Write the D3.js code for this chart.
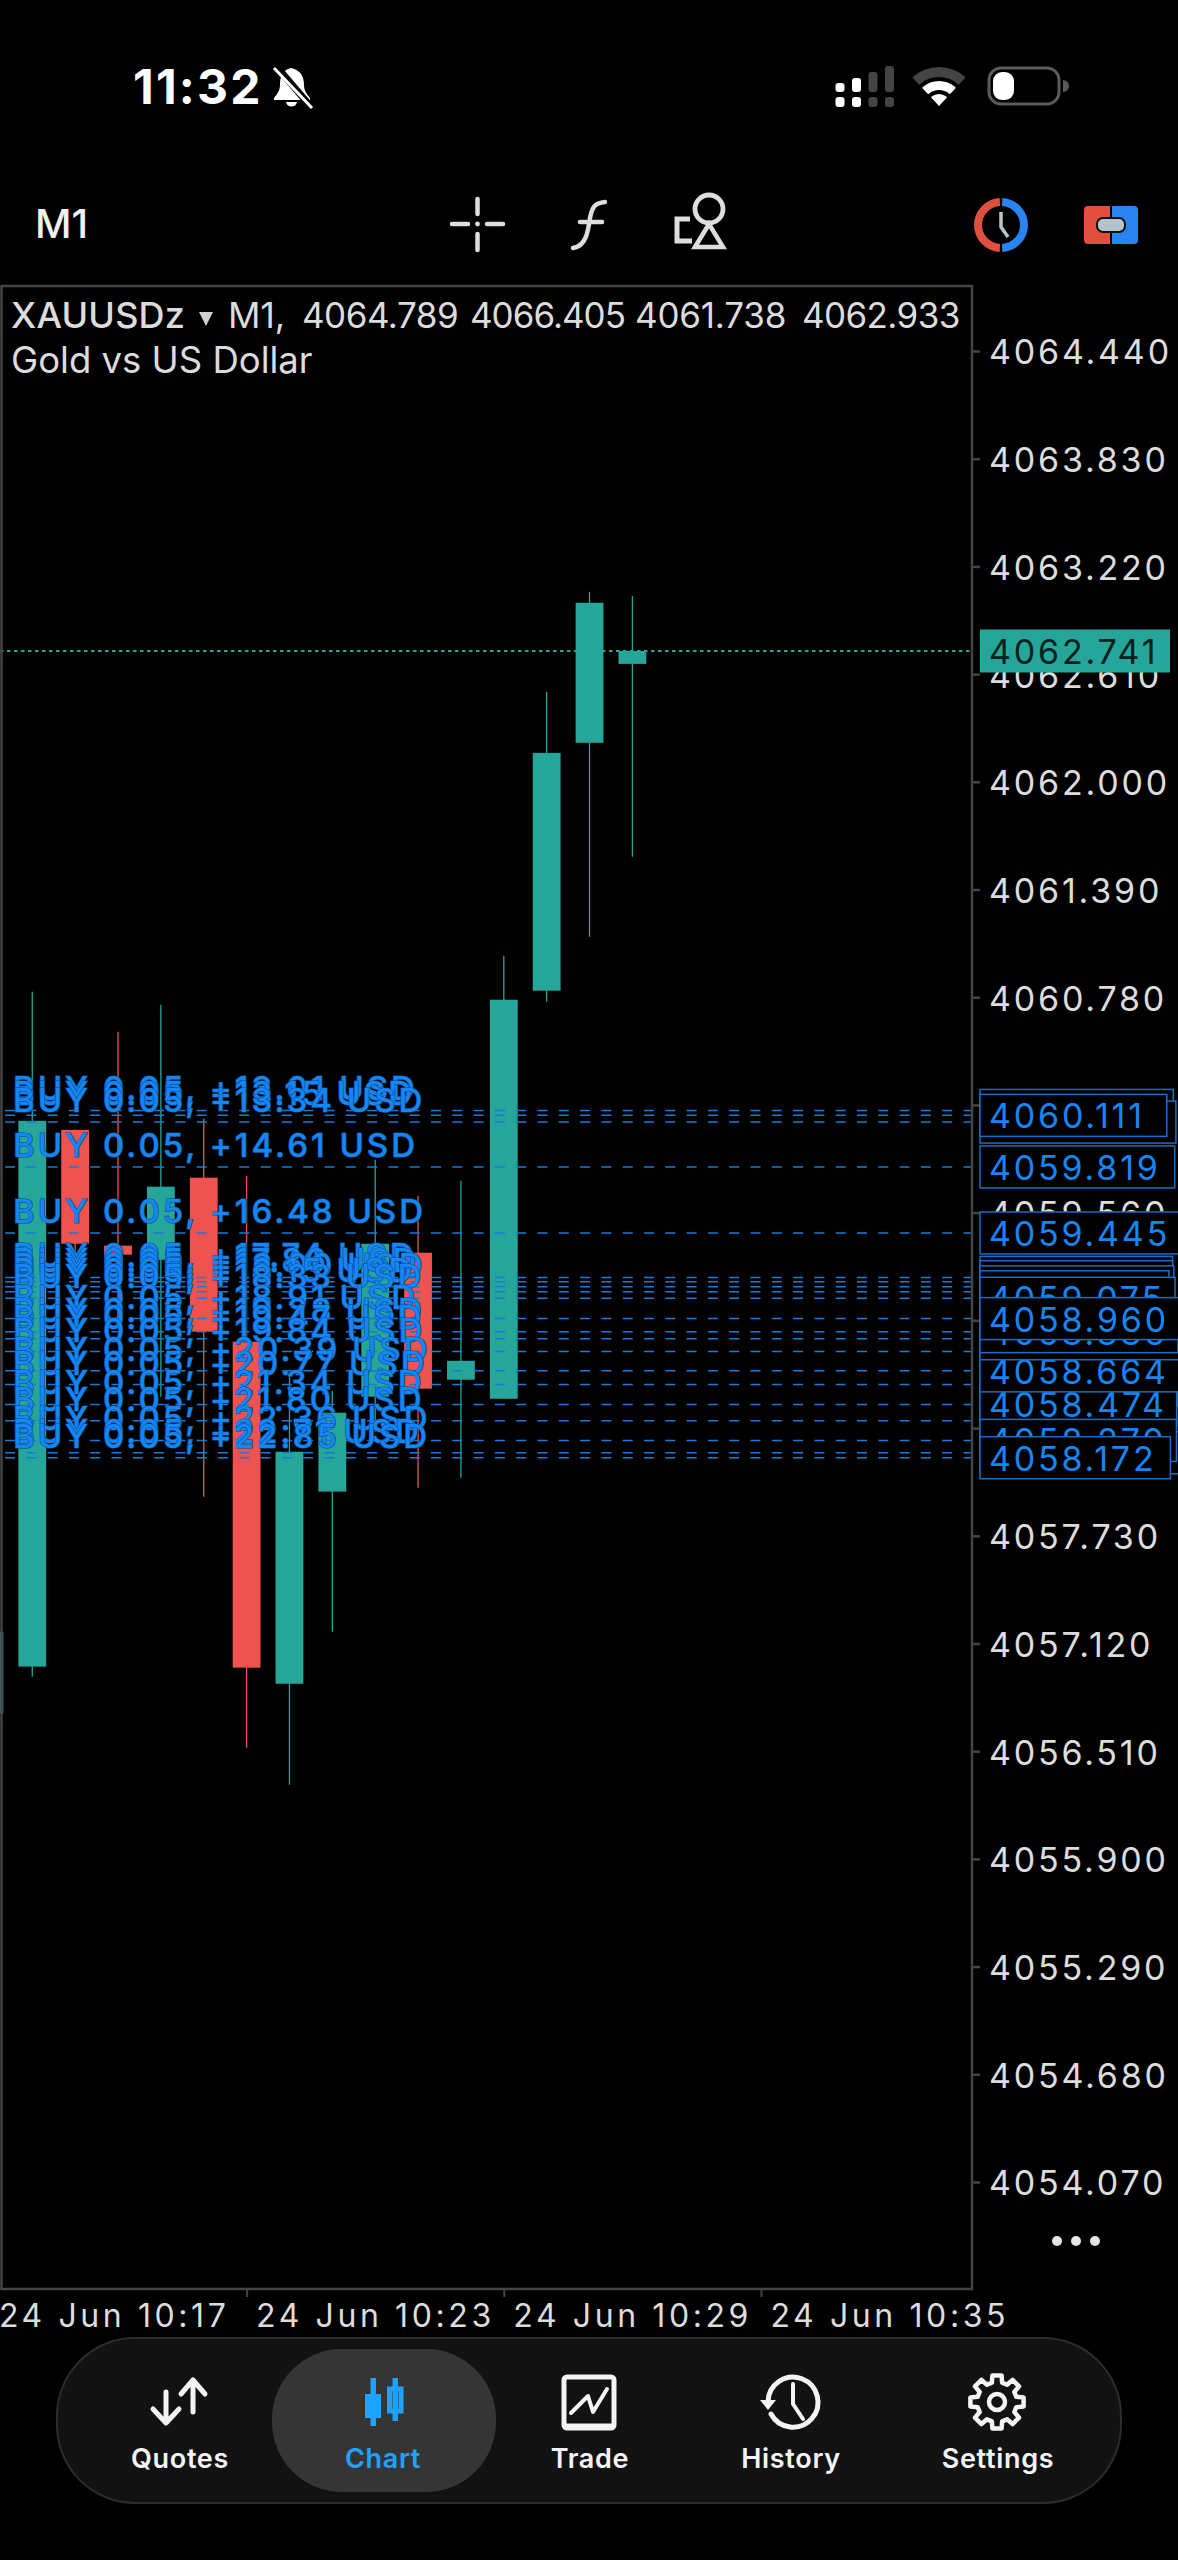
<!DOCTYPE html>
<html>
<head>
<meta charset="utf-8">
<script src="https://cdn.jsdelivr.net/npm/d3@7"></script>
<style>
  html, body { margin: 0; padding: 0; background: #000; }
  svg { display: block; }
  text { font-family: Inter, "Liberation Sans", sans-serif; }
</style>
</head>
<body>
<div id="chart"></div>
<script>
// Candle data
var minutes = [17, 18, 19, 20, 21, 22, 23, 24, 25, 26, 27, 28, 29, 30, 31, 32];
var opens = [4056.723, 4056.989, 4060.029, 4059.373, 4059.293, 4059.758, 4058.829, 4056.892, 4057.980, 4058.518, 4059.333, 4058.614, 4058.506, 4060.817, 4062.221, 4062.668];
var highs = [4057.187, 4060.811, 4060.029, 4060.584, 4060.737, 4060.092, 4059.769, 4058.653, 4058.550, 4059.860, 4059.656, 4059.741, 4061.015, 4062.510, 4063.076, 4063.053];
var lows = [4056.723, 4056.932, 4059.310, 4058.930, 4058.518, 4057.951, 4056.530, 4056.320, 4057.187, 4058.319, 4058.002, 4058.059, 4058.506, 4060.754, 4061.122, 4061.575];
var closes = [4057.187, 4060.080, 4059.384, 4059.322, 4059.707, 4058.886, 4056.983, 4058.206, 4058.427, 4059.384, 4058.563, 4058.721, 4060.766, 4062.164, 4063.014, 4062.741];

var yTicks = [4064.44, 4063.83, 4063.22, 4062.61, 4062.00, 4061.39, 4060.78, 4060.17, 4059.56, 4058.95, 4058.34, 4057.73, 4057.12, 4056.51, 4055.90, 4055.29, 4054.68, 4054.07];
var xTickMinutes = [17, 23, 29, 35];
var currentPrice = 4062.741;

// Open BUY positions, listed back to front as the price tags stack up
var positionPrices = [4060.139, 4060.073, 4060.111, 4059.819, 4059.445, 4059.193, 4059.169, 4059.140, 4059.112, 4059.075, 4058.773, 4058.200, 4058.381, 4058.586, 4058.474, 4058.664, 4058.846, 4058.886, 4058.960, 4058.270, 4058.172];
var positionProfits = ["13.01", "13.34", "13.15", "14.61", "16.48", "17.74", "17.86", "18.00", "18.15", "18.33", "19.84", "22.71", "21.80", "20.77", "21.34", "20.39", "19.47", "19.28", "18.91", "22.36", "22.85"];
var positionLots = "0.05";

var navLabels = ["Quotes", "Chart", "Trade", "History", "Settings"];
var navX = [180, 383, 590, 791, 998];

var TEAL = "#26a69a", RED = "#ef5350", BLUE = "#1586f4", GREY = "#dcdcdc", FRAME = "#444";

var width = 1178, height = 2560;
var svg = d3.select("#chart").append("svg")
	.attr("width", width)
	.attr("height", height)
	.style("background", "#000");

function at(m) { return new Date(2025, 5, 24, 10, m); }

var x = d3.scaleTime().domain([at(17), at(35)]).range([-10.6, 761]);
var y = d3.scaleLinear().domain([4064.44, 4054.07]).range([351, 2182]);
var plotRight = 972, plotTop = 286, plotBottom = 2289;

svg.append("clipPath").attr("id", "plot")
	.append("rect")
	.attr("x", 0).attr("y", plotTop).attr("width", plotRight).attr("height", plotBottom - plotTop);

// Candles
var candles = minutes.map(function(m, i) {
	return { t: at(m), o: opens[i], h: highs[i], l: lows[i], c: closes[i] };
});
var plot = svg.append("g").attr("clip-path", "url(#plot)");
var candle = plot.selectAll("g.candle").data(candles).enter().append("g").attr("class", "candle");
candle.append("line")
	.attr("x1", function(d) { return x(d.t); })
	.attr("x2", function(d) { return x(d.t); })
	.attr("y1", function(d) { return y(d.h); })
	.attr("y2", function(d) { return y(d.l); })
	.attr("stroke", function(d) { return d.c >= d.o ? TEAL : RED; })
	.attr("stroke-width", 1.3);
candle.append("rect")
	.attr("x", function(d) { return x(d.t) - 13.9; })
	.attr("width", 27.8)
	.attr("y", function(d) { return y(Math.max(d.o, d.c)); })
	.attr("height", function(d) { return Math.abs(y(d.o) - y(d.c)); })
	.attr("fill", function(d) { return d.c >= d.o ? TEAL : RED; });

// Current price line
plot.append("line")
	.attr("x1", 0).attr("x2", plotRight)
	.attr("y1", y(currentPrice)).attr("y2", y(currentPrice))
	.attr("stroke", TEAL)
	.attr("stroke-width", 2)
	.attr("stroke-dasharray", "3.5,3.5");

// Position lines
plot.selectAll("line.pos").data(positionPrices).enter().append("line")
	.attr("class", "pos")
	.attr("x1", 0).attr("x2", plotRight)
	.attr("y1", function(d) { return y(d); })
	.attr("y2", function(d) { return y(d); })
	.attr("stroke", "#1a7ad8")
	.attr("stroke-width", 1.5)
	.attr("stroke-dasharray", "10,11.3")
	.attr("stroke-dashoffset", -5);

// BUY labels, top one first
var labelRows = positionPrices.map(function(p, i) { return { p: p, profit: positionProfits[i] }; })
	.sort(function(a, b) { return d3.descending(a.p, b.p); });
svg.selectAll("text.buy").data(labelRows).enter().append("text")
	.attr("class", "buy")
	.attr("x", 13)
	.attr("y", function(d) { return y(d.p) - 10; })
	.attr("font-size", 33)
	.attr("font-weight", 500)
	.attr("letter-spacing", 3)
	.attr("fill", BLUE)
	.attr("stroke", "#0b4a8c")
	.attr("stroke-width", 1.2)
	.attr("paint-order", "stroke")
	.text(function(d) { return "BUY " + positionLots + ", +" + d.profit + " USD"; });

// Price axis
var yAxis = d3.axisRight(y).tickValues(yTicks).tickSize(8).tickPadding(9).tickFormat(d3.format(".3f"));
var yg = svg.append("g").attr("transform", "translate(" + plotRight + ",0)").call(yAxis);
yg.select(".domain").remove();
yg.selectAll("line").attr("stroke", FRAME).attr("stroke-width", 2.5);
yg.selectAll("text")
	.attr("fill", GREY)
	.attr("font-size", 34)
	.attr("letter-spacing", 2.8)
	.attr("dy", "0.38em")
	.style("font-family", "Inter");

// Time axis
var xAxis = d3.axisBottom(x)
	.tickValues(xTickMinutes.map(at))
	.tickSize(8)
	.tickFormat(d3.timeFormat("%d %b %H:%M"));
var xg = svg.append("g").attr("transform", "translate(0," + plotBottom + ")").call(xAxis);
xg.select(".domain").remove();
xg.selectAll("line").attr("stroke", FRAME).attr("stroke-width", 2);
xg.selectAll("text")
	.attr("text-anchor", "start")
	.attr("x", 9)
	.attr("y", 38)
	.attr("dy", 0)
	.attr("fill", GREY)
	.attr("font-size", 32)
	.attr("letter-spacing", 3.6)
	.style("font-family", "Inter");

// Frame
svg.append("path")
	.attr("d", "M1.5," + plotBottom + "V" + plotTop + "H" + plotRight + "V" + plotBottom + "Z")
	.attr("fill", "none")
	.attr("stroke", FRAME)
	.attr("stroke-width", 2.5);

// Price tags
var fmtPrice = d3.format(".3f");
var tags = svg.selectAll("g.tag").data(positionPrices).enter().append("g")
	.attr("class", "tag")
	.attr("transform", function(d) { return "translate(980," + y(d) + ")"; });
tags.append("rect")
	.attr("y", -21).attr("height", 42)
	.attr("fill", "#000")
	.attr("stroke", "#1a6cc4")
	.attr("stroke-width", 1.5);
tags.append("text")
	.attr("x", 9).attr("dy", "0.38em")
	.attr("font-size", 34)
	.attr("letter-spacing", 2.8)
	.attr("fill", BLUE)
	.text(fmtPrice);
tags.each(function(d) {
	var g = d3.select(this);
	// the screen's "1" is wider than Inter's, so the tag needs a little more room
	var ones = fmtPrice(d).split("1").length - 1;
	g.select("rect").attr("width", g.select("text").node().getComputedTextLength() + 19 + ones * 4);
});

// Current price tag
var cur = svg.append("g").attr("transform", "translate(980," + y(currentPrice) + ")");
cur.append("rect").attr("y", -21.5).attr("width", 190).attr("height", 43).attr("fill", TEAL);
cur.append("text").attr("x", 9).attr("dy", "0.38em")
	.attr("font-size", 34).attr("letter-spacing", 2.8).attr("fill", "#04201d")
	.text(fmtPrice(currentPrice));

// Chart header
var header = [
	["XAUUSDz", 11, 500, 36, 0.2],
	["M1,", 228, 400, 36, -0.2],
	["4064.789", 302, 400, 35, -0.5],
	["4066.405", 470, 400, 35, -1],
	["4061.738", 635, 400, 35, -0.2],
	["4062.933", 802, 400, 35, -0.6]
];
svg.selectAll("text.head").data(header).enter().append("text")
	.attr("class", "head")
	.attr("x", function(d) { return d[1]; })
	.attr("y", 328)
	.attr("font-size", function(d) { return d[3]; })
	.attr("font-weight", function(d) { return d[2]; })
	.attr("letter-spacing", function(d) { return d[4]; })
	.attr("fill", GREY)
	.text(function(d) { return d[0]; });
svg.append("path").attr("d", "M199,312H213L206,326Z").attr("fill", "#cfcfcf");
svg.append("text").attr("x", 11).attr("y", 373).attr("font-size", 36.5).attr("letter-spacing", 0).attr("fill", GREY).text("Gold vs US Dollar");

// Three dots
svg.selectAll("circle.more").data([1057, 1076, 1095]).enter().append("circle")
	.attr("class", "more").attr("cx", function(d) { return d; }).attr("cy", 2241).attr("r", 5).attr("fill", "#e6e6e6");

// Toolbar
svg.append("text").attr("x", 35).attr("y", 238).attr("font-size", 40).attr("font-weight", 500).attr("fill", "#f2f2f2").text("M1");

var tool = svg.append("g").attr("fill", "none").attr("stroke", "#dedede").attr("stroke-linecap", "round");
tool.append("path").attr("stroke-width", 4.5).attr("d", "M452,224H468M487,224H503M477.5,199V214M477.5,234V250");
tool.append("circle").attr("cx", 477.5).attr("cy", 224).attr("r", 2.4).attr("fill", "#dedede").attr("stroke", "none");
tool.append("path").attr("stroke-width", 4.5).attr("d", "M605,202C594,203 592,208 590,218C588,232 586,246 573,248M580,222H602");
tool.append("circle").attr("cx", 709).attr("cy", 209).attr("r", 14).attr("stroke-width", 4.8);
tool.append("path").attr("stroke-width", 4.5).attr("stroke-linejoin", "miter").attr("stroke-linecap", "butt").attr("d", "M709,224L695,247H723Z");
tool.append("path").attr("stroke-width", 5).attr("stroke-linecap", "butt").attr("d", "M690,219H677V241H692");

// Clock icon
var ring = d3.arc().innerRadius(19).outerRadius(27);
svg.append("path").attr("transform", "translate(1001,225)").attr("fill", "#e0503f").attr("d", ring({ startAngle: Math.PI + 0.05, endAngle: 2 * Math.PI - 0.05 }));
svg.append("path").attr("transform", "translate(1001,225)").attr("fill", "#2a84ef").attr("d", ring({ startAngle: 0.05, endAngle: Math.PI - 0.05 }));
svg.append("path").attr("fill", "none").attr("stroke", "#b8c6cc").attr("stroke-width", 3.5).attr("d", "M1001,212V227L1008,237");

// Toggle icon
svg.append("path").attr("fill", "#e0503f").attr("d", "M1110,206H1088a4,4 0 0 0 -4,4V240a4,4 0 0 0 4,4H1110Z");
svg.append("path").attr("fill", "#2a84ef").attr("d", "M1112,206H1134a4,4 0 0 1 4,4V240a4,4 0 0 1 -4,4H1112Z");
svg.append("rect").attr("x", 1097).attr("y", 218).attr("width", 28).attr("height", 14).attr("rx", 6).attr("fill", "#b4c4cc").attr("stroke", "#111").attr("stroke-width", 2);

// Status bar
svg.append("text").attr("x", 133).attr("y", 104).attr("font-size", 48).attr("font-weight", 700).attr("letter-spacing", 2.2).attr("fill", "#fff").text("11:32");
svg.append("path").attr("fill", "#fff")
	.attr("d", "M291,68c-9,2 -11,9 -11,17c0,6 -3,9 -6,13v2h36v-2c-3,-4 -6,-7 -6,-13c0,-8 -3,-15 -13,-17ZM286,102h11c-1,6 -10,6 -11,0Z");
svg.append("path").attr("fill", "none").attr("stroke", "#000").attr("stroke-width", 7).attr("d", "M276,66L312,108");
svg.append("path").attr("fill", "none").attr("stroke", "#fff").attr("stroke-width", 3).attr("d", "M274,68L312,108");

var signal = [[840, 83, "#fff"], [856.5, 78, "#fff"], [873, 72, "#444"], [889.5, 66, "#444"]];
signal.forEach(function(s) {
	svg.append("rect").attr("x", s[0] - 4.5).attr("y", 97).attr("width", 9).attr("height", 10).attr("rx", 3).attr("fill", s[2]);
	svg.append("rect").attr("x", s[0] - 4.5).attr("y", s[1]).attr("width", 9).attr("height", 92 - s[1]).attr("rx", 3).attr("fill", s[2]);
});

var wifi = d3.arc().startAngle(-0.75).endAngle(0.75).cornerRadius(1);
[[0, 12, "#fff"], [16, 25, "#fff"], [29, 39, "#444"]].forEach(function(w) {
	svg.append("path").attr("transform", "translate(939,106)").attr("fill", w[2])
		.attr("d", wifi({ innerRadius: w[0], outerRadius: w[1] }));
});

svg.append("rect").attr("x", 989).attr("y", 68).attr("width", 70).attr("height", 36).attr("rx", 12).attr("fill", "none").attr("stroke", "#5a5a5a").attr("stroke-width", 3);
svg.append("rect").attr("x", 993).attr("y", 72).attr("width", 21).attr("height", 28).attr("rx", 9).attr("fill", "#fff");
svg.append("path").attr("d", "M1063,80a6,6 0 0 1 0,12Z").attr("fill", "#5a5a5a");

// Bottom navigation
svg.append("rect").attr("x", 57).attr("y", 2338).attr("width", 1064).attr("height", 165).attr("rx", 78)
	.attr("fill", "#121212").attr("stroke", "#2c2c2c").attr("stroke-width", 2);
svg.append("rect").attr("x", 272).attr("y", 2349).attr("width", 224).attr("height", 143).attr("rx", 70).attr("fill", "#353535");

svg.selectAll("text.nav").data(navLabels).enter().append("text")
	.attr("class", "nav")
	.attr("x", function(d, i) { return navX[i]; })
	.attr("y", 2468)
	.attr("text-anchor", "middle")
	.attr("font-size", 27)
	.attr("font-weight", 600)
	.attr("letter-spacing", 0.7)
	.attr("fill", function(d) { return d === "Chart" ? "#1fa2ff" : "#f4f4f4"; })
	.text(function(d) { return d; });

var icon = svg.append("g").attr("fill", "none").attr("stroke", "#f4f4f4").attr("stroke-width", 5).attr("stroke-linecap", "round").attr("stroke-linejoin", "round");
// quotes
icon.append("path").attr("d", "M193,2412V2381M181,2394L193,2380L205,2394M166,2392V2422M153,2409L166,2423L179,2409");
// chart
var active = svg.append("g").attr("fill", "#1fa2ff");
active.append("rect").attr("x", 370.5).attr("y", 2378).attr("width", 5.5).attr("height", 48);
active.append("rect").attr("x", 365).attr("y", 2394).attr("width", 16).attr("height", 24);
active.append("rect").attr("x", 392.5).attr("y", 2378).attr("width", 5.5).attr("height", 43);
active.append("rect").attr("x", 389.5).attr("y", 2389).attr("width", 11.5).attr("height", 22).attr("fill", "none").attr("stroke", "#1fa2ff").attr("stroke-width", 5);
// trade
icon.append("rect").attr("x", 564).attr("y", 2377).attr("width", 50).attr("height", 51).attr("rx", 3);
icon.append("path").attr("stroke-width", 4).attr("d", "M571,2413L588,2396L593,2412L607,2389");
icon.append("path").attr("stroke-width", 3).attr("d", "M565,2425H613");
// history
icon.append("path").attr("d", "M771,2414A25,25 0 1 0 768,2402");
icon.append("path").attr("fill", "#f4f4f4").attr("stroke", "none").attr("d", "M760,2400H776L768,2410Z");
icon.append("path").attr("stroke-width", 4).attr("d", "M793,2384V2404L803,2419");
// settings
var teeth = d3.range(8).flatMap(function(i) {
	var a = i * Math.PI / 4, s = 0.17, g = 0.26;
	return [[a - g, 20], [a - s, 27], [a + s, 27], [a + g, 20]];
});
icon.append("path").attr("transform", "translate(997,2402)")
	.attr("stroke-width", 4.5)
	.attr("d", d3.lineRadial().angle(function(d) { return d[0]; }).radius(function(d) { return d[1]; }).curve(d3.curveLinearClosed)(teeth));
icon.append("circle").attr("cx", 997).attr("cy", 2402).attr("r", 8).attr("stroke-width", 4.5);
</script>
</body>
</html>
